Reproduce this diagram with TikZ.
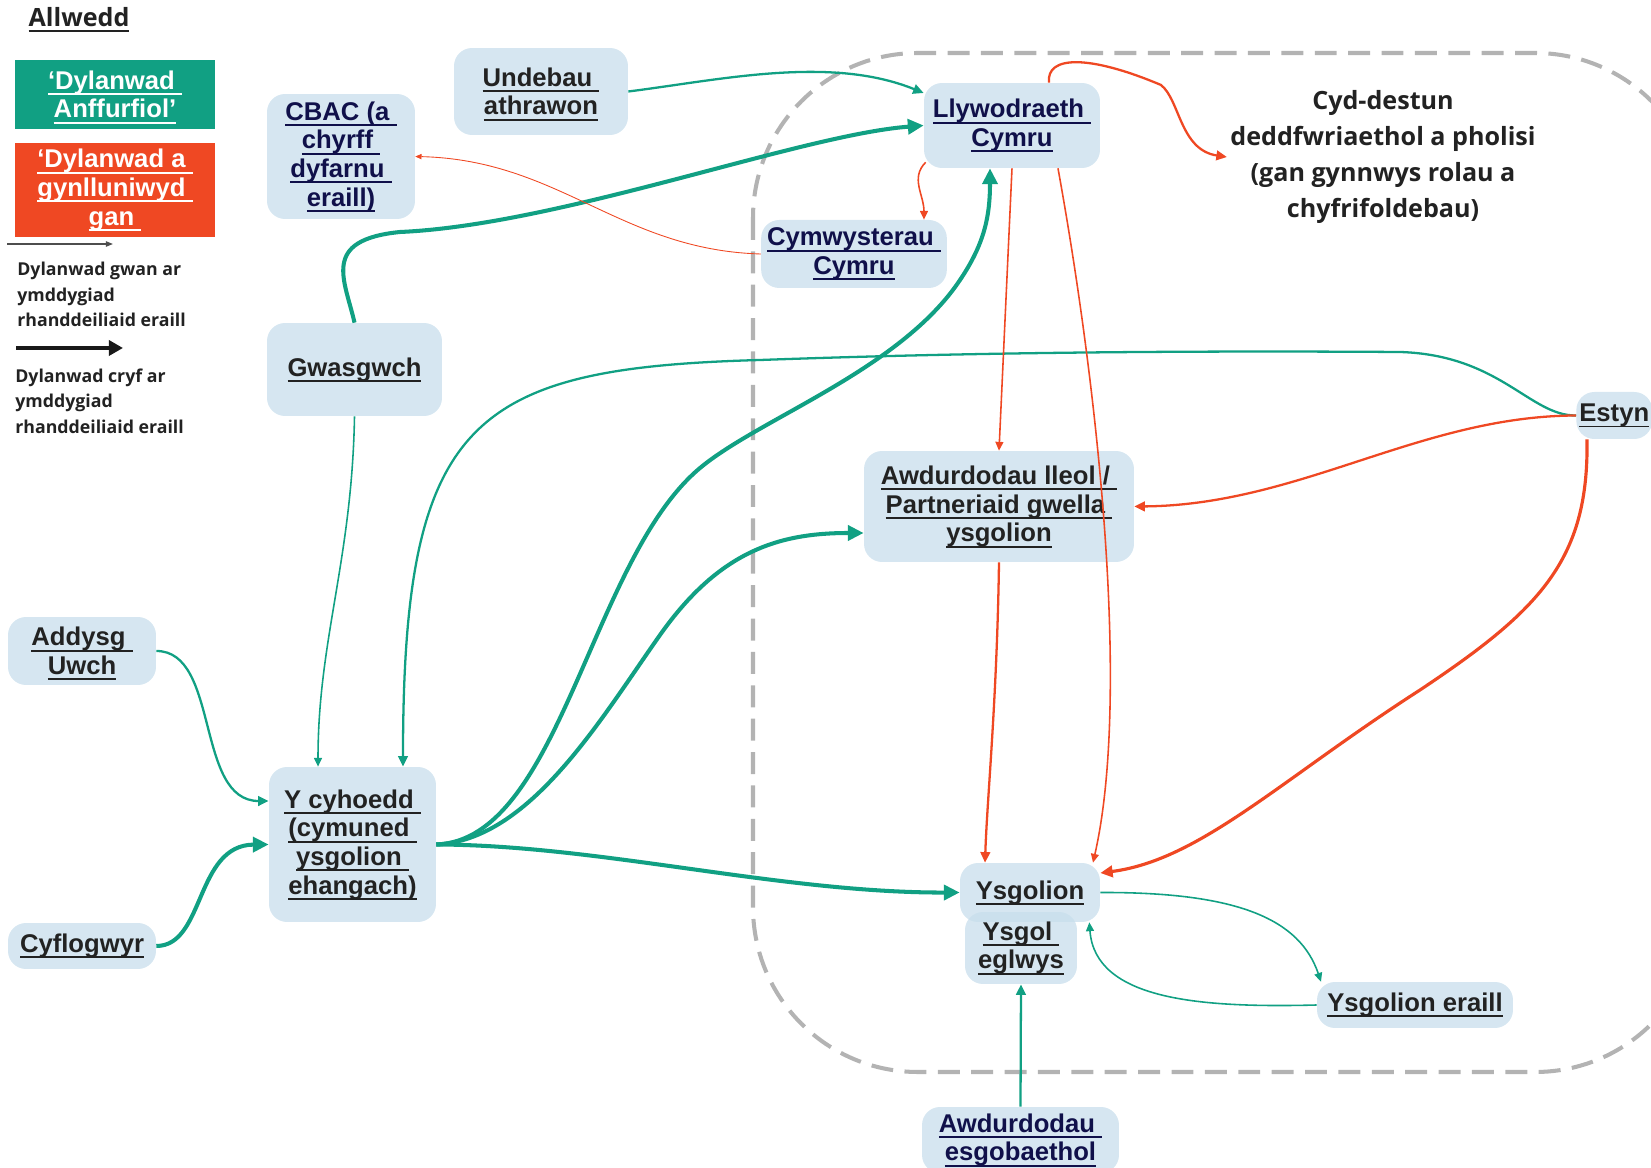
\documentclass[tikz,border=0pt]{standalone}
\usepackage{fontspec}
\setmainfont{Liberation Sans}
\newfontfamily\osans{Open Sans}
\usetikzlibrary{arrows.meta}
\definecolor{dylgreen}{RGB}{17,160,131}
\definecolor{dylred}{RGB}{239,72,35}
\definecolor{boxblue}{RGB}{200,222,236}
\definecolor{navytext}{RGB}{16,16,74}
\definecolor{darktext}{RGB}{34,34,34}
\definecolor{dashgrey}{RGB}{179,179,179}
\newsavebox\undlbox
\newcommand{\undl}[1]{\sbox\undlbox{#1}\rlap{\smash{\rule[-3.3pt]{\wd\undlbox}{1.1pt}}}\usebox\undlbox}

\begin{document}
\begin{tikzpicture}[x=0.02cm, y=-0.02cm,
    rhanddeiliad/.style={fill=boxblue, fill opacity=0.75, text opacity=1, rounded corners=0.36cm, align=center, text=darktext, font=\bfseries\fontsize{14.6}{16.3}\selectfont},
    dolen/.style={text=navytext},
    allweddbox/.style={align=center, text=white, inner sep=0pt, minimum width=4cm, font=\bfseries\fontsize{14.6}{16.3}\selectfont},
    allweddtext/.style={align=left, text=darktext, inner sep=0pt, font=\osans\bfseries\fontsize{10.1}{14.5}\selectfont},
    anffurfiol/.style={draw=dylgreen},
    cynllun/.style={draw=dylred},
    gwan/.style={line width=0.9pt, -{Triangle[length=5pt,width=4.5pt]}},
    canolig/.style={line width=1.3pt, -{Triangle[length=6pt,width=5.5pt]}},
    cadarn/.style={line width=1.8pt, -{Triangle[length=7pt,width=6.5pt]}},
    cryf/.style={line width=2.3pt, -{Triangle[length=9pt,width=8.5pt]}}]

    \useasboundingbox (0,0) rectangle (1651,1168);
    \clip (0,0) rectangle (1651,1168);

    % legislative and policy context
    \draw[dashgrey, line width=2.3pt, dash pattern=on 12.5pt off 6.5pt, rounded corners=3.3cm] (753,53) rectangle (1700,1072);
    \node[font=\osans\bfseries\fontsize{14.3}{20.6}\selectfont, text=darktext, align=center, inner sep=0pt, outer sep=2pt] (cyd) at (1383,157) {Cyd-destun\\deddfwriaethol a pholisi\\(gan gynnwys rolau a\\chyfrifoldebau)};

    % key
    \node[inner sep=0pt, text=darktext, font=\osans\bfseries\fontsize{14.3}{16}\selectfont] (allwedd) at (79,17) {\undl{Allwedd}};
    \node[allweddbox, fill=dylgreen, minimum height=1.38cm] (anffurf) at (115,94.5) {\undl{‘Dylanwad\ }\\\undl{Anffurfiol’}};
    \node[allweddbox, fill=dylred, minimum height=1.88cm] (cynlluniwyd) at (115,190) {\undl{‘Dylanwad a\ }\\\undl{gynlluniwyd\ }\\\undl{gan\ }};
    \coordinate (gwan-o) at (7,244);
    \coordinate (gwan-i) at (113,244);
    \draw[darktext!80, line width=0.8pt, -{Triangle[length=4pt,width=3pt]}] (gwan-o) -- (gwan-i);
    \node[allweddtext, anchor=west] (gwantext) at (17,294.5) {Dylanwad gwan ar\\ymddygiad\\rhanddeiliaid eraill};
    \coordinate (cryf-o) at (16,348);
    \coordinate (cryf-i) at (123,348);
    \draw[black!90, line width=2.3pt, -{Triangle[length=8pt,width=8.5pt]}] (cryf-o) -- (cryf-i);
    \node[allweddtext, anchor=west] (cryftext) at (15,401) {Dylanwad cryf ar\\ymddygiad\\rhanddeiliaid eraill};

    % stakeholders
    \node[rhanddeiliad, dolen, minimum width=2.96cm, minimum height=2.5cm] (cbac) at (341,156.5) {\undl{CBAC (a\ }\\\undl{chyrff\ }\\\undl{dyfarnu\ }\\\undl{eraill)}};
    \node[rhanddeiliad, minimum width=3.48cm, minimum height=1.74cm] (undeb) at (541,91.5) {\undl{Undebau\ }\\\undl{athrawon}};
    \node[rhanddeiliad, minimum width=3.5cm, minimum height=1.86cm] (gwasg) at (354.5,369.5) {\undl{Gwasgwch}};
    \node[rhanddeiliad, dolen, minimum width=3.52cm, minimum height=1.7cm] (llyw) at (1012,125.5) {\undl{Llywodraeth\ }\\\undl{Cymru}};
    \node[rhanddeiliad, dolen, minimum width=3.6cm, minimum height=1.36cm] (cymw) at (854,254) {\undl{Cymwysterau\ }\\\undl{Cymru}};
    \node[rhanddeiliad, minimum width=2.96cm, minimum height=1.36cm] (addysg) at (82,651) {\undl{Addysg\ }\\\undl{Uwch}};
    \node[rhanddeiliad, minimum width=3.34cm, minimum height=3.1cm] (cyhoedd) at (352.5,844.5) {\undl{Y cyhoedd\ }\\\undl{(cymuned\ }\\\undl{ysgolion\ }\\\undl{ehangach)}};
    \node[rhanddeiliad, minimum width=2.96cm, minimum height=0.92cm] (cyflog) at (82,946) {\undl{Cyflogwyr}};
    \node[rhanddeiliad, minimum width=5.4cm, minimum height=2.22cm] (awdlleol) at (999,506.5) {\undl{Awdurdodau lleol /\ }\\\undl{Partneriaid gwella\ }\\\undl{ysgolion}};
    \node[rhanddeiliad, minimum width=2.8cm, minimum height=1.18cm] (ysgolion) at (1030,892.5) {\undl{Ysgolion}};
    \node[rhanddeiliad, minimum width=2.24cm, minimum height=1.44cm] (eglwys) at (1021,948) {\undl{Ysgol\ }\\\undl{eglwys}};
    \node[rhanddeiliad, minimum width=3.92cm, minimum height=0.92cm] (eraill) at (1415,1005) {\undl{Ysgolion eraill}};
    \node[rhanddeiliad, dolen, minimum width=3.94cm, minimum height=1.32cm] (esgob) at (1020.5,1140) {\undl{Awdurdodau\ }\\\undl{esgobaethol}};
    \node[rhanddeiliad, anchor=west, inner xsep=0.06cm, minimum height=0.94cm] (estyn) at (1576,415.5) {\undl{Estyn}};

    % informal influence
    \draw[anffurfiol, canolig] (undeb.east) .. controls (720,80) and (830,55) .. ([yshift=0.65cm]llyw.west);
    \draw[anffurfiol, cryf] (gwasg.north) .. controls (345,280) and (320,240) .. (400,232) .. controls (560,225) and (800,135) .. (llyw.west);
    \draw[anffurfiol, gwan] (gwasg.south) .. controls (352,560) and (318,640) .. ([xshift=-0.69cm]cyhoedd.north);
    \draw[anffurfiol, canolig] (estyn.west) .. controls (1530,416) and (1500,355) .. (1400,352) .. controls (1100,350) and (900,355) .. (760,360) .. controls (470,368) and (403,420) .. ([xshift=1.01cm]cyhoedd.north);
    \draw[anffurfiol, canolig] (addysg.east) .. controls (220,651) and (195,801) .. ([yshift=0.87cm]cyhoedd.west);
    \draw[anffurfiol, cryf] (cyflog.east) .. controls (205,946) and (195,845) .. (cyhoedd.west);
    \draw[anffurfiol, cryf] (cyhoedd.east) .. controls (560,840) and (590,560) .. (700,468) .. controls (760,418) and (900,370) .. (960,280) .. controls (985,243) and (990,215) .. ([xshift=-0.44cm]llyw.south);
    \draw[anffurfiol, cryf] (cyhoedd.east) .. controls (530,840) and (600,720) .. (660,635) .. controls (720,550) and (780,533) .. ([yshift=-0.53cm]awdlleol.west);
    \draw[anffurfiol, cryf] (cyhoedd.east) .. controls (600,845) and (780,893) .. (ysgolion.west);
    \draw[anffurfiol, gwan] (ysgolion.east) .. controls (1240,892) and (1300,920) .. ([xshift=-1.88cm]eraill.north);
    \draw[anffurfiol, gwan] (eraill.west) .. controls (1200,1008) and (1095,1000) .. ([xshift=-0.22cm]ysgolion.south east);
    \draw[anffurfiol, canolig] (esgob.north) -- (eglwys.south);

    % planned influence
    \draw[cynllun, line width=0.5pt, -{Triangle[length=3.5pt,width=3pt]}] (cymw.west) .. controls (620,250) and (560,160) .. (cbac.east);
    \draw[cynllun, canolig] ([xshift=0.74cm]llyw.north) .. controls (1046,55) and (1090,55) .. (1161,85) .. controls (1180,100) and (1180,150) .. (cyd.west);
    \draw[cynllun, gwan] ([shift={(0.04cm,0.12cm)}]llyw.south west) .. controls (910,178) and (924,195) .. ([xshift=1.4cm]cymw.north);
    \draw[cynllun, gwan] (llyw.south) -- (awdlleol.north);
    \draw[cynllun, gwan] ([xshift=0.92cm]llyw.south) .. controls (1100,400) and (1130,700) .. ([xshift=1.26cm]ysgolion.north);
    \draw[cynllun, canolig] (awdlleol.south) .. controls (997,700) and (987,800) .. ([xshift=-0.9cm]ysgolion.north);
    \draw[cynllun, canolig] (estyn.west) .. controls (1420,416) and (1300,505) .. (awdlleol.east);
    \draw[cynllun, cadarn] ([xshift=0.22cm]estyn.south west) .. controls (1589,560) and (1540,610) .. (1420,690) .. controls (1280,780) and (1200,860) .. ([yshift=0.39cm]ysgolion.east);

\end{tikzpicture}
\end{document}
